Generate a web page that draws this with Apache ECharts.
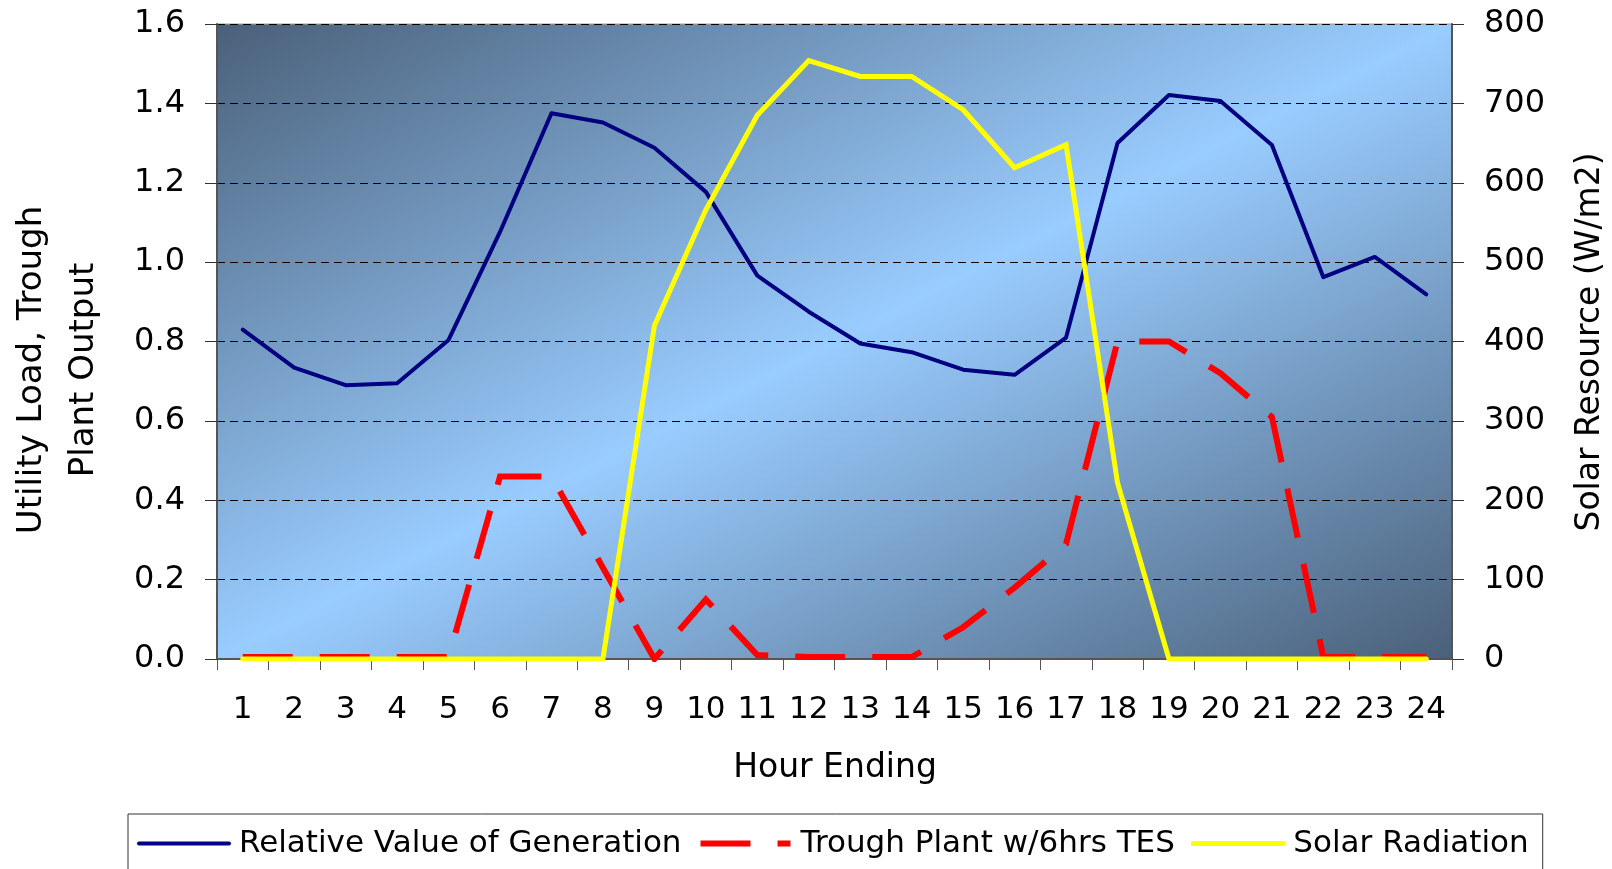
<!DOCTYPE html>
<html>
<head>
<meta charset="utf-8">
<script src="https://cdn.jsdelivr.net/npm/echarts@6/dist/echarts.min.js"></script>
<style>
html,body{margin:0;padding:0;background:#fff;}
#chart{width:1612px;height:869px;}
</style>
</head>
<body>
<div id="chart"></div>
<script>
// ---- data ----
var hours = ['1','2','3','4','5','6','7','8','9','10','11','12','13','14','15','16','17','18','19','20','21','22','23','24'];
var relativeValue = [0.83,0.734,0.69,0.695,0.804,1.076,1.375,1.352,1.288,1.177,0.966,0.875,0.795,0.773,0.729,0.716,0.81,1.30,1.421,1.406,1.295,0.962,1.013,0.919];
var troughPlant = [0.005,0.005,0.005,0.005,0.005,0.46,0.46,0.23,0.0,0.15,0.01,0.005,0.005,0.005,0.08,0.18,0.29,0.80,0.80,0.72,0.61,0.005,0.005,0.005];
var solarRadiation = [0,0,0,0,0,0,0,0,420,566,685,754,734,734,692,619,648,222,0,0,0,0,0,0];
var seriesNames = ['Relative Value of Generation','Trough Plant w/6hrs TES','Solar Radiation'];
var leftTicks = {min:0,max:1.6,interval:0.2};
var rightTicks = {min:0,max:800,interval:100};

var FONT = 'DejaVu Sans';
var chart = echarts.init(document.getElementById('chart'), null, {renderer:'canvas'});

var option = {
  animation:false,
  backgroundColor:'#ffffff',
  grid:{
    left:217, right:160, top:24, bottom:210, containLabel:false,
    show:true,
    borderColor:'#999999', borderWidth:1,
    backgroundColor:new echarts.graphic.LinearGradient(0,0,0.418,1.582,[
      {offset:0,color:'#4a6079'},
      {offset:0.5,color:'#99ccff'},
      {offset:1,color:'#4a6079'}
    ])
  },
  legend:{
    left:128, top:814,
    data:[
      {name:seriesNames[0], lineStyle:{width:4}},
      {name:seriesNames[1], lineStyle:{width:6}},
      {name:seriesNames[2], lineStyle:{width:5}}
    ],
    itemWidth:90, itemHeight:14, itemGap:16,
    padding:[14,14,30,9],
    borderColor:'#333333', borderWidth:1,
    itemStyle:{opacity:0},
    textStyle:{fontFamily:FONT,fontSize:31,color:'#000',padding:[0,0,0,5]}
  },
  xAxis:{
    type:'category',
    data:hours,
    boundaryGap:true,
    axisLine:{show:true,lineStyle:{color:'#555555',width:2}},
    axisTick:{show:true,length:11,alignWithLabel:false,lineStyle:{color:'#555555',width:1}},
    axisLabel:{fontFamily:FONT,fontSize:31,color:'#000',margin:35,interval:0}
  },
  yAxis:[
    {
      type:'value', position:'left',
      min:leftTicks.min, max:leftTicks.max, interval:leftTicks.interval,
      axisLine:{show:true,lineStyle:{color:'#555555',width:2}},
      axisTick:{show:true,length:12,lineStyle:{color:'#333333',width:1}},
      axisLabel:{fontFamily:FONT,fontSize:32,color:'#000',margin:32,
        formatter:function(v){return v.toFixed(1);}},
      splitLine:{show:true,lineStyle:{color:'#000000',width:1,type:[8,5]}}
    },
    {
      type:'value', position:'right',
      min:rightTicks.min, max:rightTicks.max, interval:rightTicks.interval,
      axisLine:{show:true,lineStyle:{color:'#555555',width:2}},
      axisTick:{show:true,length:12,lineStyle:{color:'#333333',width:1}},
      axisLabel:{fontFamily:FONT,fontSize:32,color:'#000',margin:32},
      splitLine:{show:false}
    }
  ],
  series:[
    {
      name:seriesNames[0], type:'line', yAxisIndex:0,
      data:relativeValue, showSymbol:false, symbol:'none',
      lineStyle:{color:'#000080',width:4,cap:'round',join:'round'},
      itemStyle:{color:'#000080'}
    },
    {
      name:seriesNames[1], type:'line', yAxisIndex:0,
      data:troughPlant, showSymbol:false, symbol:'none',
      lineStyle:{color:'#ff0000',width:6,type:[50,27],cap:'butt',join:'miter'},
      itemStyle:{color:'#ff0000'}
    },
    {
      name:seriesNames[2], type:'line', yAxisIndex:1,
      data:solarRadiation, showSymbol:false, symbol:'none',
      lineStyle:{color:'#ffff00',width:5,cap:'round',join:'miter'},
      itemStyle:{color:'#ffff00'}
    }
  ],
  graphic:[
    {
      type:'text', x:58, y:370, rotation:Math.PI/2,
      style:{text:'Utility Load, Trough\nPlant Output', fill:'#000',
        font:'34px "'+FONT+'"', align:'center', verticalAlign:'middle', lineHeight:52}
    },
    {
      type:'text', x:1590, y:342, rotation:Math.PI/2,
      style:{text:'Solar Resource (W/m2)', fill:'#000',
        font:'33px "'+FONT+'"', align:'center', verticalAlign:'middle'}
    },
    {
      type:'text', x:835, y:768,
      style:{text:'Hour Ending', fill:'#000',
        font:'33px "'+FONT+'"', align:'center', verticalAlign:'middle'}
    }
  ]
};
chart.setOption(option);
</script>
</body>
</html>
